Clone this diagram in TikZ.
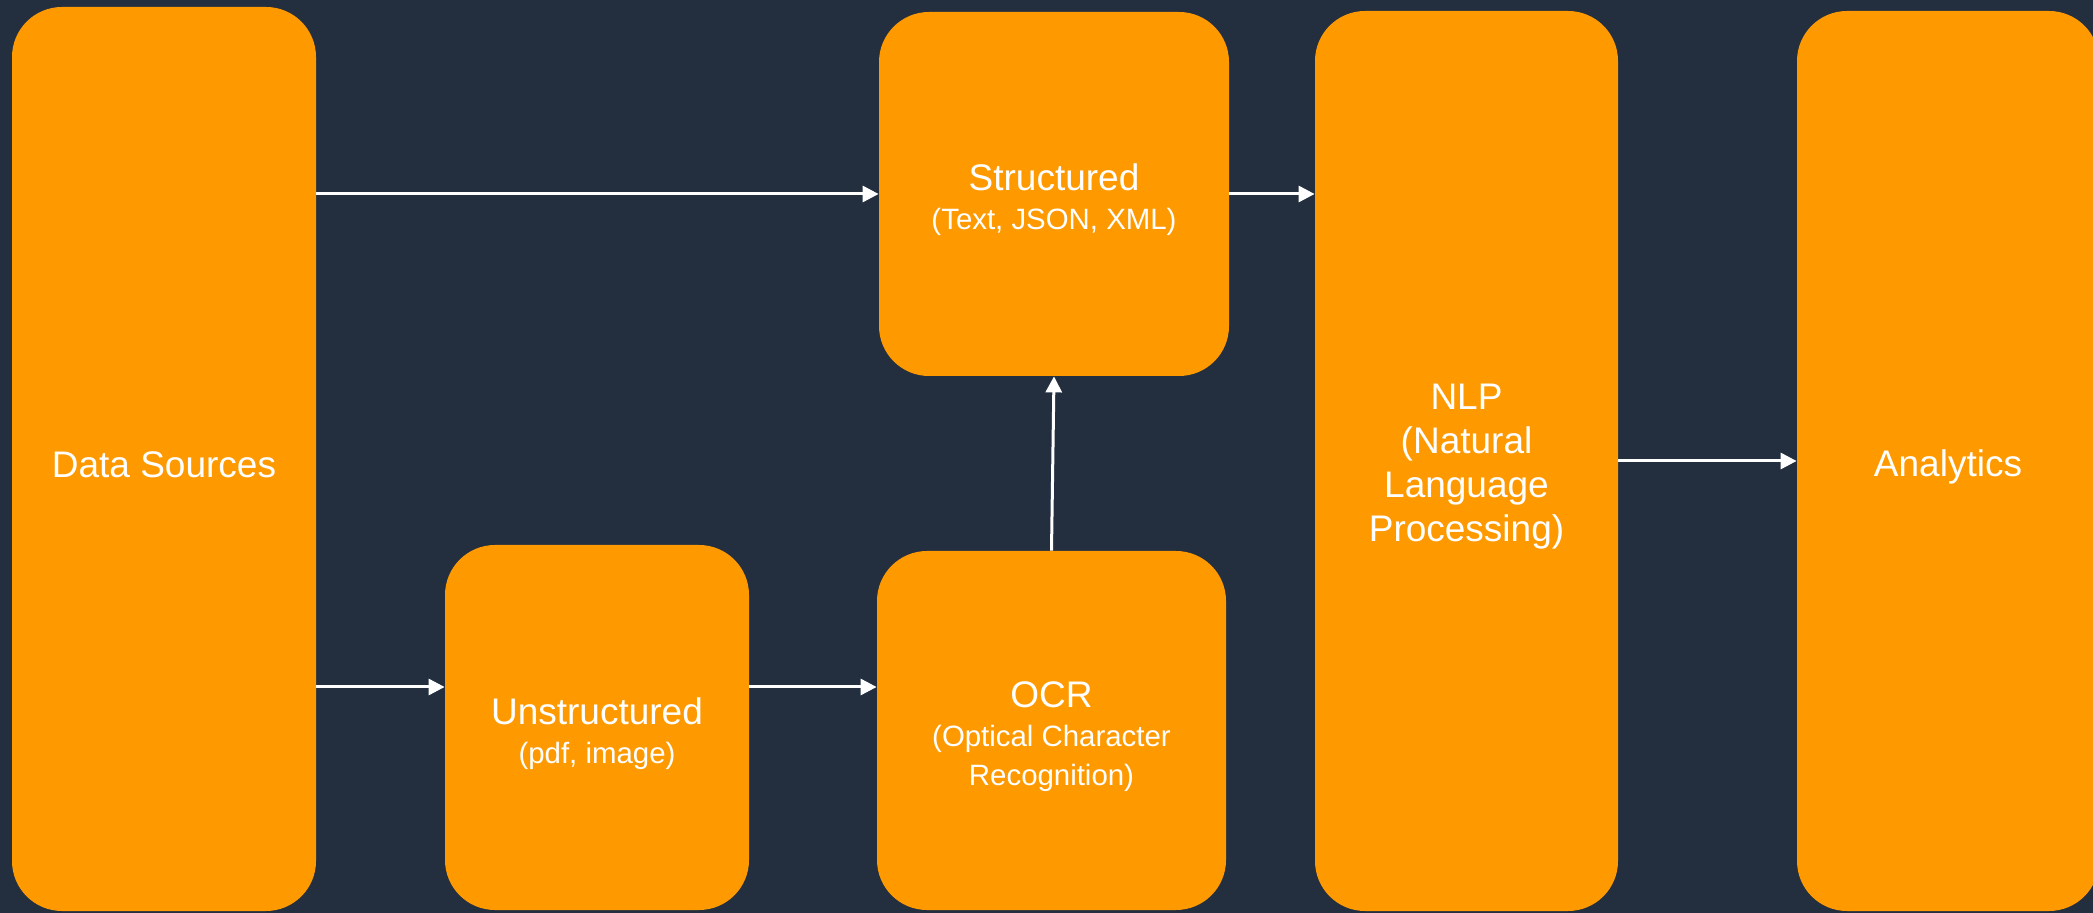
\documentclass[tikz,border=0pt]{standalone}
\usepackage{fontspec}
\setmainfont{Liberation Sans}
\usetikzlibrary{arrows.meta}
\definecolor{inkbg}{HTML}{232F3E}
\definecolor{boxorange}{HTML}{FF9900}
\newcommand\subline[1]{{\fontsize{14.7}{18.5}\selectfont #1}}

\begin{document}
\begin{tikzpicture}[x=0.5pt,y=-0.5pt,
  stage/.style={fill=boxorange, rounded corners=25pt, inner sep=0pt},
  caption/.style={text=white, align=center, inner sep=0pt,
    font=\fontsize{18.5}{19.5}\selectfont},
  tallcaption/.style={caption, font=\fontsize{18.5}{22}\selectfont},
  flow/.style={draw=white, line width=1.5pt, -{Triangle[length=8pt,width=8pt]}}]

% background
\fill[inkbg] (0,0) rectangle (2093,913);
\useasboundingbox (0,0) rectangle (2093,913);

% stage boxes
\node[stage, minimum width=152pt, minimum height=452pt] (ds) at (164,459) {};
\node[stage, minimum width=152pt, minimum height=182.5pt] (un) at (597,727.5) {};
\node[stage, minimum width=175pt, minimum height=182pt] (st) at (1054,194) {};
\node[stage, minimum width=174.5pt, minimum height=179.5pt] (ocr) at (1051.5,730.5) {};
\node[stage, minimum width=151.5pt, minimum height=450pt] (nlp) at (1466.5,461) {};
\node[stage, minimum width=151pt, minimum height=450pt] (an) at (1948,461) {};

% stage captions, set a little below each box centre
\node[caption] (dsT) at ([yshift=-3pt]ds.center) {Data Sources};
\node[caption] (unT) at ([yshift=-3pt]un.center) {Unstructured\\\subline{(pdf, image)}};
\node[caption] (stT) at ([yshift=-3pt]st.center) {Structured\\\subline{(Text, JSON, XML)}};
\node[caption] (ocrT) at ([yshift=-3pt]ocr.center)
  {OCR\\\subline{(Optical Character}\\\subline{Recognition)}};
\node[tallcaption] (nlpT) at ([yshift=-3pt]nlp.center) {NLP\\(Natural\\Language\\Processing)};
\node[caption] (anT) at ([yshift=-3pt]an.center) {Analytics};

% connectors
\coordinate (low) at (0,687);
\draw[flow] (ds.east |- st.west) -- (st.west);
\draw[flow] (st.east) -- (nlp.west |- st.east);
\draw[flow] (ds.east |- low) -- (un.west |- low);
\draw[flow] (un.east |- low) -- (ocr.west |- low);
\draw[flow] (ocr.north) -- (st.south);
\draw[flow] (nlp.east) -- (an.west);
\end{tikzpicture}
\end{document}
